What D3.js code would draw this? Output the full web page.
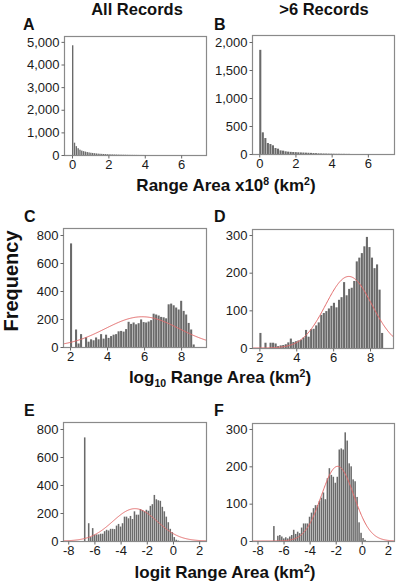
<!DOCTYPE html>
<html>
<head>
<meta charset="utf-8">
<script src="https://cdn.jsdelivr.net/npm/d3@7"></script>
<style>
  html, body { margin: 0; padding: 0; background: #fff; }
  svg { display: block; }
  text { font-family: "Liberation Sans", Arial, Helvetica, sans-serif; }
</style>
</head>
<body>
<svg id="chart" width="397" height="585"></svg>
<script>
// ---------------- DATA ----------------
// Panel A: All Records, range area x10^8 km^2 (bin width 0.1 from 0)
const binsA = [4850, 545, 390, 300, 235, 195, 170, 150, 130, 115, 100, 90, 80, 70, 62, 55, 50, 45, 40, 36, 32, 29, 26, 23, 21, 19, 17, 15, 13, 12, 10, 9, 8, 7, 6, 5, 4, 3, 3, 2];
// Panel B: >6 Records, range area x10^8 km^2 (bin width 0.14 from 0)
const binsB = [1860, 387, 285, 196, 178, 155, 107, 95, 65, 60, 48, 42, 38, 35, 33, 30, 28, 26, 24, 22, 20, 17, 15, 12, 10, 9, 8, 7, 6, 5, 4, 4, 3, 3, 2, 2];
// Panel C: All Records, log10 range area (bin width 0.1352 from 2.0)
const binsC = [740, 0, 125, 25, 92, 0, 70, 38, 55, 48, 68, 55, 92, 60, 88, 65, 78, 88, 92, 112, 115, 110, 128, 180, 165, 175, 162, 170, 197, 178, 175, 182, 192, 238, 232, 225, 215, 212, 205, 305, 310, 298, 282, 268, 330, 258, 232, 172, 125, 18];
// Panel D: >6 Records, log10 range area (bin width 0.1352 from 2.0)
const binsD = [40, 0, 14, 0, 14, 14, 12, 5, 7, 8, 10, 15, 25, 16, 18, 20, 22, 28, 48, 30, 50, 51, 60, 68, 88, 93, 98, 105, 112, 120, 108, 128, 135, 175, 140, 157, 160, 178, 230, 240, 252, 270, 295, 268, 240, 212, 222, 155, 40];
// Panel E: All Records, logit range area (bin width 0.152 from -6.8)
const binsE = [740, 0, 127, 28, 92, 45, 47, 47, 52, 52, 70, 80, 75, 87, 87, 85, 110, 122, 103, 127, 174, 174, 162, 179, 157, 212, 188, 188, 228, 221, 212, 223, 216, 251, 263, 329, 298, 291, 287, 244, 212, 174, 134, 87, 63, 28, 9, 3];
// Panel F: >6 Records, logit range area (bin width 0.152 from -6.8)
const binsF = [40, 0, 14, 16, 12, 7, 10, 7, 12, 16, 30, 19, 25, 21, 36, 47, 47, 47, 65, 76, 88, 96, 96, 107, 116, 130, 112, 168, 195, 177, 172, 156, 172, 245, 248, 245, 291, 269, 208, 200, 165, 160, 118, 50, 22, 8, 3];

const binStarts = [0, 0, 2.0, 2.0, -6.8, -6.8];
const binWidths = [0.1, 0.14, 0.1352, 0.1375, 0.152, 0.152];

// Fitted normal curves (mean, sd, peak count) for C-F
const curveMeans = [null, null, 5.9, 6.85, -2.9, -1.85];
const curveSDs   = [null, null, 2.0, 1.25, 1.7, 1.25];
const curvePeaks = [null, null, 216, 190, 231, 200];

// Ticks
const xTicksRaw   = [0, 2, 4, 6];
const xTicksLog   = [2, 4, 6, 8];
const xTicksLogit = [-8, -6, -4, -2, 0, 2];
const yTicksA = [0, 1000, 2000, 3000, 4000, 5000];
const yTicksB = [0, 500, 1000, 1500, 2000];
const yTicksAll = [0, 200, 400, 600, 800];
const yTicksSub = [0, 100, 200, 300];

const panelLetters = ["A", "B", "C", "D", "E", "F"];
const columnTitles = ["All Records", ">6 Records"];

// ---------------- LAYOUT ----------------
const svg = d3.select("#chart");
const panels = [
  {bins: binsA, box: [64, 36, 207, 155], xd: [-0.44, 7.42], yd: [0, 5260], xt: xTicksRaw, yt: yTicksA, letter: [23, 30]},
  {bins: binsB, box: [252, 35, 395, 154], xd: [-0.4, 7.5], yd: [0, 2125], xt: xTicksRaw, yt: yTicksB, letter: [214, 30]},
  {bins: binsC, box: [63, 228, 207, 347], xd: [1.62, 9.4], yd: [0, 850], xt: xTicksLog, yt: yTicksAll, letter: [24, 222]},
  {bins: binsD, box: [252, 229, 394, 348], xd: [1.6, 9.3], yd: [0, 316], xt: xTicksLog, yt: yTicksSub, letter: [214, 222]},
  {bins: binsE, box: [63, 422, 207, 541], xd: [-8.4, 2.6], yd: [0, 850], xt: xTicksLogit, yt: yTicksAll, letter: [24, 416]},
  {bins: binsF, box: [252, 423, 395, 541], xd: [-8.42, 2.55], yd: [0, 316], xt: xTicksLogit, yt: yTicksSub, letter: [214, 416]}
];

const fmtInt = d => d3.format(",")(d).replace("\u2212", "-");
const fmtPlain = d => String(d);

panels.forEach((p, i) => {
  const [x0, y0, x1, y1] = p.box;
  const x = d3.scaleLinear().domain(p.xd).range([x0, x1]);
  const y = d3.scaleLinear().domain(p.yd).range([y1, y0]);
  const g = svg.append("g");

  const clipId = "clip" + i;
  g.append("clipPath").attr("id", clipId)
    .append("rect").attr("x", x0).attr("y", y0).attr("width", x1 - x0).attr("height", y1 - y0);

  // bars
  const start = binStarts[i], w = binWidths[i];
  g.append("g").attr("clip-path", `url(#${clipId})`)
    .selectAll("rect").data(p.bins).join("rect")
    .attr("x", (d, k) => x(start + k * w))
    .attr("width", (d, k) => Math.max(0.3, x(start + (k + 1) * w) - x(start + k * w) - 0.45))
    .attr("y", d => y(d))
    .attr("height", d => y(0) - y(d))
    .attr("fill", "#6a6a6a");

  // normal curve
  if (curveMeans[i] !== null) {
    const m = curveMeans[i], s = curveSDs[i], pk = curvePeaks[i];
    const xs = d3.range(p.xd[0], p.xd[1] + 0.001, 0.04);
    const line = d3.line().x(d => x(d)).y(d => y(pk * Math.exp(-((d - m) ** 2) / (2 * s * s))));
    g.append("path").attr("clip-path", `url(#${clipId})`)
      .attr("d", line(xs)).attr("fill", "none")
      .attr("stroke", "#e36b6b").attr("stroke-width", 1);
  }

  // frame
  g.append("rect").attr("x", x0 + 0.5).attr("y", y0 + 0.5)
    .attr("width", x1 - x0 - 1).attr("height", y1 - y0)
    .attr("fill", "none").attr("stroke", "#8a8a8a").attr("stroke-width", 1.2);

  // axes
  const xa = g.append("g").attr("transform", `translate(0,${y1 + 0.5})`)
    .call(d3.axisBottom(x).tickValues(p.xt).tickSize(3).tickPadding(1).tickFormat(fmtPlain));
  const ya = g.append("g").attr("transform", `translate(${x0 + 0.5},0)`)
    .call(d3.axisLeft(y).tickValues(p.yt).tickSize(3).tickPadding(2).tickFormat(fmtInt));
  [xa, ya].forEach(a => {
    a.select(".domain").remove();
    a.selectAll(".tick line").attr("stroke", "#666");
    a.selectAll(".tick text").attr("fill", "#1a1a1a")
      .style("font-size", "13px").style("font-family", '"Liberation Sans", Arial, sans-serif');
  });

  // panel letter
  svg.append("text").attr("x", p.letter[0]).attr("y", p.letter[1])
    .attr("font-size", 16).attr("font-weight", "bold").attr("fill", "#111")
    .text(panelLetters[i]);
});

// column titles
svg.append("text").attr("x", 137).attr("y", 15).attr("text-anchor", "middle")
  .attr("font-size", 16.5).attr("font-weight", "bold").attr("fill", "#111").text(columnTitles[0]);
svg.append("text").attr("x", 324).attr("y", 15).attr("text-anchor", "middle")
  .attr("font-size", 16.5).attr("font-weight", "bold").attr("fill", "#111").text(columnTitles[1]);

// x-axis titles
function axisTitle(cx, cy, parts) {
  const t = svg.append("text").attr("x", cx).attr("y", cy).attr("text-anchor", "middle")
    .attr("font-size", 17).attr("font-weight", "bold").attr("fill", "#111");
  parts.forEach(pt => {
    const ts = t.append("tspan").text(pt.t);
    if (pt.sup) ts.attr("font-size", 10.5).attr("dy", -6.5);
    if (pt.sub) ts.attr("font-size", 10.5).attr("dy", 4);
    if (pt.back) ts.attr("dy", pt.back);
  });
}
axisTitle(226, 191, [{t: "Range Area x10"}, {t: "8", sup: true}, {t: " (km", back: 6.5}, {t: "2", sup: true}, {t: ")", back: 6.5}]);
axisTitle(220, 383, [{t: "log"}, {t: "10", sub: true}, {t: " Range Area (km", back: -4}, {t: "2", sup: true}, {t: ")", back: 6.5}]);
axisTitle(225, 578, [{t: "logit Range Area (km"}, {t: "2", sup: true}, {t: ")", back: 6.5}]);

// y-axis title
svg.append("text").attr("transform", "translate(18,281) rotate(-90)")
  .attr("text-anchor", "middle").attr("font-size", 20).attr("font-weight", "bold")
  .attr("fill", "#111").text("Frequency");
</script>
</body>
</html>
